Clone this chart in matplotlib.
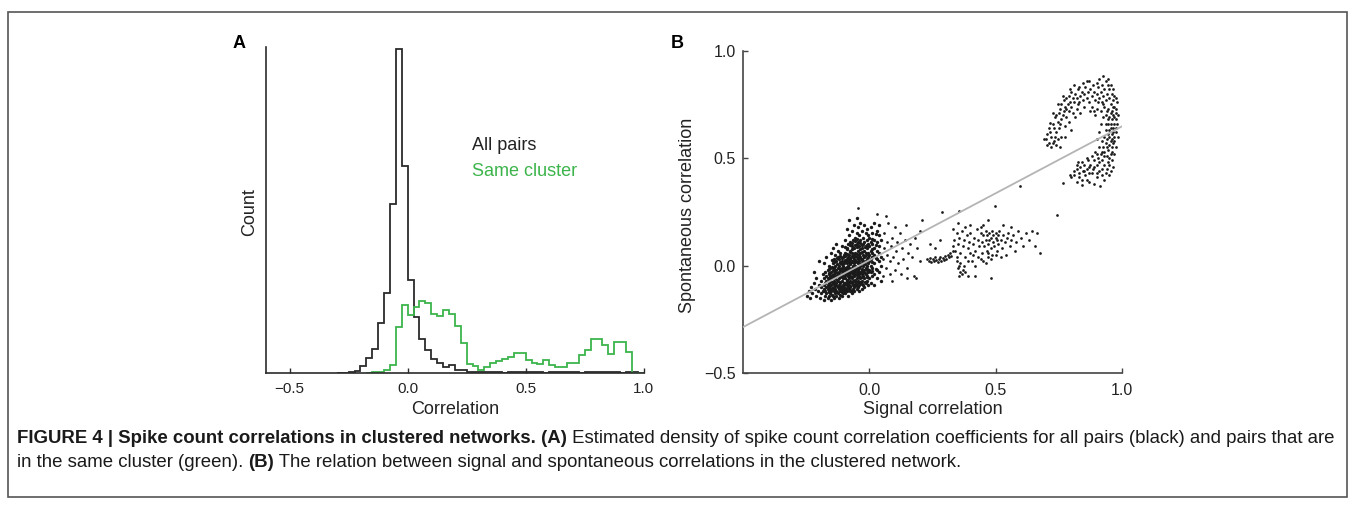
import numpy as np
import matplotlib
matplotlib.use("Agg")
import matplotlib.pyplot as plt
from matplotlib.patches import Rectangle

plt.rcParams['font.family'] = ['Liberation Sans', 'DejaVu Sans']

W, H = 1355, 509

# Panel A: histograms of correlation coefficients (bin width 0.025)

bin_width = 0.025

all_start = -0.3
all_counts = [
    0.0, 0.1, 0.3, 0.7, 2.3, 4.6, 7.4, 15.5, 24.8, 52.0, 100.0, 64.0,
    28.7, 17.4, 10.4, 7.1, 4.2, 3.0, 2.0, 2.6, 0.9, 0.9, 0.3,
    0.3, 0.2, 0.4, 0.2, 0.3, 0.1, 0.3, 0.2, 0.4, 0.2, 0.3, 0.2, 0.1, 0.3,
    0.2, 0.4, 0.2, 0.3, 0.1, 0.2, 0.3, 0.2, 0.4, 0.3, 0.2, 0.1, 0.3, 0.2, 0.1
]

same_start = -0.175
same_counts = [
    0.0, 0.2, 0.4, 0.9, 2.6, 14.3, 21.0, 18.0, 20.4, 22.3, 21.5,
    18.3, 17.7, 19.3, 18.1, 14.4, 9.2, 2.9, 2.1, 1.0, 2.0,
    3.0, 3.7, 4.3, 5.0, 6.1, 6.1, 4.0, 3.0, 2.7, 4.0,
    2.5, 1.8, 1.8, 3.2, 3.2, 5.6, 7.1, 10.4, 10.4, 8.6,
    5.8, 9.7, 9.7, 6.4, 0.0, 0.0
]

hist_ticks = [-0.5, 0.0, 0.5, 1.0]
hist_ticklabels = ["\u22120.5", "0.0", "0.5", "1.0"]

# Panel B: signal vs spontaneous correlation

core_pts = [
    (-0.245, -0.14), (-0.24, -0.12), (-0.235, -0.15), (-0.23, -0.10), (-0.225, -0.13),
    (-0.22, -0.08), (-0.215, -0.11), (-0.21, -0.14), (-0.21, -0.06), (-0.205, -0.12),
    (-0.20, -0.09), (-0.20, 0.02), (-0.22, -0.03),
    (-0.195, -0.15), (-0.19, -0.13), (-0.19, -0.10), (-0.19, -0.07), (-0.185, -0.12),
    (-0.185, -0.04), (-0.18, -0.16), (-0.18, -0.11), (-0.18, -0.09), (-0.18, -0.06),
    (-0.18, 0.01), (-0.175, -0.14), (-0.175, -0.12), (-0.175, -0.08), (-0.175, -0.03),
    (-0.17, -0.13), (-0.17, -0.10), (-0.17, -0.07), (-0.17, -0.05), (-0.17, 0.04),
    (-0.165, -0.15), (-0.165, -0.11), (-0.165, -0.09), (-0.165, -0.06), (-0.165, -0.02),
    (-0.16, -0.14), (-0.16, -0.12), (-0.16, -0.10), (-0.16, -0.08), (-0.16, -0.04),
    (-0.16, 0.00), (-0.155, -0.13), (-0.155, -0.11), (-0.155, -0.07), (-0.155, -0.05),
    (-0.155, -0.01), (-0.15, -0.16), (-0.15, -0.12), (-0.15, -0.09), (-0.15, -0.06),
    (-0.15, -0.03), (-0.15, 0.06),
    (-0.145, -0.14), (-0.145, -0.11), (-0.145, -0.08), (-0.145, -0.05), (-0.145, -0.02),
    (-0.145, 0.01), (-0.145, 0.08),
    (-0.14, -0.15), (-0.14, -0.12), (-0.14, -0.10), (-0.14, -0.07), (-0.14, -0.04),
    (-0.14, -0.01), (-0.14, 0.03),
    (-0.135, -0.13), (-0.135, -0.09), (-0.135, -0.06), (-0.135, -0.03), (-0.135, 0.00),
    (-0.135, 0.05), (-0.135, -0.11),
    (-0.13, -0.14), (-0.13, -0.12), (-0.13, -0.08), (-0.13, -0.05), (-0.13, -0.02),
    (-0.13, 0.02), (-0.13, 0.10),
    (-0.125, -0.13), (-0.125, -0.10), (-0.125, -0.07), (-0.125, -0.04), (-0.125, -0.01),
    (-0.125, 0.04), (-0.125, 0.07),
    (-0.12, -0.15), (-0.12, -0.11), (-0.12, -0.09), (-0.12, -0.06), (-0.12, -0.03),
    (-0.12, 0.00), (-0.12, 0.03),
    (-0.115, -0.12), (-0.115, -0.10), (-0.115, -0.08), (-0.115, -0.05), (-0.115, -0.02),
    (-0.115, 0.01), (-0.115, 0.06),
    (-0.11, -0.14), (-0.11, -0.11), (-0.11, -0.07), (-0.11, -0.04), (-0.11, -0.01),
    (-0.11, 0.02), (-0.11, 0.09),
    (-0.105, -0.13), (-0.105, -0.09), (-0.105, -0.06), (-0.105, -0.03), (-0.105, 0.00),
    (-0.105, 0.04), (-0.105, -0.11),
    (-0.10, -0.12), (-0.10, -0.10), (-0.10, -0.08), (-0.10, -0.05), (-0.10, -0.02),
    (-0.10, 0.01), (-0.10, 0.05),
    (-0.095, -0.13), (-0.095, -0.11), (-0.095, -0.08), (-0.095, -0.06), (-0.095, -0.03),
    (-0.095, -0.01), (-0.095, 0.02), (-0.095, 0.06), (-0.095, 0.12),
    (-0.09, -0.12), (-0.09, -0.09), (-0.09, -0.07), (-0.09, -0.04), (-0.09, -0.02),
    (-0.09, 0.01), (-0.09, 0.03), (-0.09, 0.08), (-0.09, 0.17),
    (-0.085, -0.14), (-0.085, -0.10), (-0.085, -0.08), (-0.085, -0.05), (-0.085, -0.03),
    (-0.085, 0.00), (-0.085, 0.04), (-0.085, 0.10),
    (-0.08, -0.11), (-0.08, -0.09), (-0.08, -0.06), (-0.08, -0.04), (-0.08, -0.01),
    (-0.08, 0.02), (-0.08, 0.05), (-0.08, 0.14), (-0.08, 0.21),
    (-0.075, -0.12), (-0.075, -0.10), (-0.075, -0.07), (-0.075, -0.05), (-0.075, -0.02),
    (-0.075, 0.01), (-0.075, 0.03), (-0.075, 0.07), (-0.075, 0.11),
    (-0.07, -0.13), (-0.07, -0.08), (-0.07, -0.06), (-0.07, -0.03), (-0.07, -0.01),
    (-0.07, 0.02), (-0.07, 0.06), (-0.07, 0.09), (-0.07, 0.16),
    (-0.065, -0.11), (-0.065, -0.09), (-0.065, -0.07), (-0.065, -0.04), (-0.065, -0.02),
    (-0.065, 0.00), (-0.065, 0.04), (-0.065, 0.12),
    (-0.06, -0.12), (-0.06, -0.10), (-0.06, -0.05), (-0.06, -0.03), (-0.06, 0.01),
    (-0.06, 0.03), (-0.06, 0.05), (-0.06, 0.08), (-0.06, 0.19),
    (-0.055, -0.09), (-0.055, -0.07), (-0.055, -0.04), (-0.055, -0.02), (-0.055, 0.00),
    (-0.055, 0.02), (-0.055, 0.06), (-0.055, 0.13),
    (-0.05, -0.11), (-0.05, -0.08), (-0.05, -0.06), (-0.05, -0.03), (-0.05, -0.01),
    (-0.05, 0.04), (-0.05, 0.10), (-0.05, 0.15), (-0.05, 0.22),
    (-0.045, -0.10), (-0.045, -0.07), (-0.045, -0.04), (-0.045, -0.02), (-0.045, 0.01),
    (-0.045, 0.03), (-0.045, 0.07), (-0.045, 0.11), (-0.045, 0.18),
    (-0.04, -0.12), (-0.04, -0.09), (-0.04, -0.05), (-0.04, -0.01), (-0.04, 0.02),
    (-0.04, 0.05), (-0.04, 0.09), (-0.04, 0.14),
    (-0.035, -0.08), (-0.035, -0.06), (-0.035, -0.03), (-0.035, 0.00), (-0.035, 0.04),
    (-0.035, 0.06), (-0.035, 0.12), (-0.035, 0.20),
    (-0.03, -0.11), (-0.03, -0.07), (-0.03, -0.04), (-0.03, -0.02), (-0.03, 0.01),
    (-0.03, 0.03), (-0.03, 0.08), (-0.03, 0.16),
    (-0.025, -0.09), (-0.025, -0.05), (-0.025, -0.03), (-0.025, 0.00), (-0.025, 0.02),
    (-0.025, 0.05), (-0.025, 0.10), (-0.025, 0.13),
    (-0.02, -0.10), (-0.02, -0.06), (-0.02, -0.02), (-0.02, 0.01), (-0.02, 0.04),
    (-0.02, 0.07), (-0.02, 0.11), (-0.02, 0.19),
    (-0.015, -0.08), (-0.015, -0.04), (-0.015, -0.01), (-0.015, 0.02), (-0.015, 0.06),
    (-0.015, 0.09), (-0.015, 0.15),
    (-0.01, -0.07), (-0.01, -0.05), (-0.01, -0.02), (-0.01, 0.00), (-0.01, 0.03),
    (-0.01, 0.08), (-0.01, 0.12), (-0.01, 0.17),
    (-0.005, -0.09), (-0.005, -0.03), (-0.005, 0.01), (-0.005, 0.04), (-0.005, 0.06),
    (-0.005, 0.10), (-0.005, 0.14),
    (0.0, -0.06), (0.0, -0.02), (0.0, 0.02), (0.0, 0.05), (0.0, 0.09), (0.0, 0.13),
    (0.005, -0.08), (0.005, -0.03), (0.005, 0.00), (0.005, 0.03), (0.005, 0.07),
    (0.005, 0.11), (0.005, 0.18),
    (0.01, -0.05), (0.01, -0.01), (0.01, 0.04), (0.01, 0.06), (0.01, 0.10), (0.01, 0.15),
    (0.02, -0.09), (0.02, -0.04), (0.02, 0.01), (0.02, 0.05), (0.02, 0.08), (0.02, 0.12),
    (0.02, 0.20),
    (0.03, -0.06), (0.03, -0.02), (0.03, 0.03), (0.03, 0.07), (0.03, 0.11), (0.03, 0.16),
    (0.04, -0.03), (0.04, 0.02), (0.04, 0.06), (0.04, 0.09), (0.04, 0.14), (0.04, 0.19),
    (0.045, -0.07), (0.045, 0.00), (0.045, 0.04), (0.045, 0.12),
]

# the darkest part of the blob, between the points above
core_fill_pts = [
    (-0.158, -0.125), (-0.158, -0.095), (-0.158, -0.065), (-0.158, -0.035), (-0.158, -0.015),
    (-0.148, -0.135), (-0.148, -0.105), (-0.148, -0.075), (-0.148, -0.045), (-0.148, -0.005),
    (-0.148, 0.025),
    (-0.138, -0.115), (-0.138, -0.085), (-0.138, -0.055), (-0.138, -0.025), (-0.138, 0.015),
    (-0.128, -0.125), (-0.128, -0.095), (-0.128, -0.065), (-0.128, -0.035), (-0.128, 0.005),
    (-0.128, 0.035),
    (-0.118, -0.135), (-0.118, -0.105), (-0.118, -0.075), (-0.118, -0.045), (-0.118, -0.015),
    (-0.118, 0.015), (-0.118, 0.045),
    (-0.108, -0.125), (-0.108, -0.095), (-0.108, -0.055), (-0.108, -0.025), (-0.108, 0.005),
    (-0.108, 0.035),
    (-0.098, -0.115), (-0.098, -0.085), (-0.098, -0.045), (-0.098, -0.015), (-0.098, 0.025),
    (-0.098, 0.045), (-0.098, 0.085),
    (-0.088, -0.105), (-0.088, -0.065), (-0.088, -0.035), (-0.088, -0.005), (-0.088, 0.015),
    (-0.088, 0.055), (-0.088, 0.075),
    (-0.078, -0.095), (-0.078, -0.075), (-0.078, -0.035), (-0.078, 0.005), (-0.078, 0.035),
    (-0.078, 0.065), (-0.078, 0.095),
    (-0.068, -0.115), (-0.068, -0.055), (-0.068, -0.025), (-0.068, 0.015), (-0.068, 0.045),
    (-0.068, 0.075), (-0.068, 0.105),
    (-0.058, -0.085), (-0.058, -0.065), (-0.058, -0.015), (-0.058, 0.025), (-0.058, 0.045),
    (-0.058, 0.095), (-0.058, 0.115),
    (-0.048, -0.095), (-0.048, -0.045), (-0.048, -0.015), (-0.048, 0.015), (-0.048, 0.055),
    (-0.048, 0.085), (-0.048, 0.125),
    (-0.038, -0.075), (-0.038, -0.035), (-0.038, 0.005), (-0.038, 0.035), (-0.038, 0.075),
    (-0.038, 0.105),
    (-0.028, -0.085), (-0.028, -0.055), (-0.028, -0.015), (-0.028, 0.025), (-0.028, 0.065),
    (-0.028, 0.095),
    (-0.018, -0.075), (-0.018, -0.035), (-0.018, 0.005), (-0.018, 0.045), (-0.018, 0.085),
    (-0.008, -0.055), (-0.008, -0.015), (-0.008, 0.025), (-0.008, 0.055), (-0.008, 0.095),
    (0.012, -0.025), (0.012, 0.015), (0.012, 0.075), (0.012, 0.125),
    (0.025, -0.015), (0.025, 0.035), (0.025, 0.095), (0.025, 0.145),
]

# thinner spread of points around the blob
spread_pts = [
    (0.055, -0.05), (0.055, 0.03), (0.06, 0.08), (0.06, 0.15), (0.065, -0.01),
    (0.07, 0.05), (0.07, 0.11), (0.075, 0.20), (0.08, -0.04), (0.08, 0.02),
    (0.085, 0.09), (0.09, 0.13), (0.09, -0.07), (0.095, 0.04), (0.10, 0.18),
    (0.10, -0.02), (0.105, 0.07), (0.11, 0.11), (0.115, 0.01), (0.12, 0.15),
    (0.125, -0.04), (0.13, 0.08), (0.135, 0.03), (0.14, 0.12), (0.145, 0.19),
    (0.15, -0.01), (0.155, 0.06), (0.16, 0.10), (0.17, 0.04), (0.175, -0.05),
    (0.18, 0.13), (0.19, 0.08), (0.20, 0.16), (0.21, 0.21), (0.065, 0.23),
    (0.03, 0.24), (-0.045, 0.27), (0.20, 0.02),
]

mid_pts = [
    (0.23, 0.03), (0.235, 0.02), (0.24, 0.035), (0.245, 0.015), (0.25, 0.03),
    (0.255, 0.02), (0.26, 0.04), (0.265, 0.025), (0.27, 0.015), (0.275, 0.03),
    (0.28, 0.04), (0.285, 0.02), (0.29, 0.035), (0.295, 0.025), (0.30, 0.045),
    (0.305, 0.03), (0.31, 0.05), (0.315, 0.04), (0.32, 0.06), (0.325, 0.045),
    (0.33, 0.07),
    (0.345, 0.02), (0.35, -0.01), (0.355, 0.00), (0.36, -0.03), (0.36, 0.01),
    (0.365, -0.04), (0.37, -0.02), (0.355, -0.05), (0.375, 0.00), (0.345, 0.04),
    (0.33, 0.09), (0.335, 0.12), (0.34, 0.07), (0.345, 0.15), (0.35, 0.10),
    (0.355, 0.13), (0.36, 0.06), (0.365, 0.16), (0.37, 0.09), (0.375, 0.12),
    (0.38, 0.04), (0.385, 0.14), (0.39, 0.08), (0.395, 0.11), (0.40, 0.06),
    (0.40, 0.15), (0.405, 0.02), (0.41, 0.10), (0.415, 0.13), (0.42, 0.07),
    (0.425, 0.17), (0.43, 0.04), (0.43, 0.12), (0.435, 0.09), (0.44, 0.15),
    (0.445, 0.11), (0.445, 0.06), (0.45, 0.14), (0.45, 0.02), (0.455, 0.09),
    (0.46, 0.16), (0.46, 0.12), (0.465, 0.07), (0.465, 0.14), (0.47, 0.10),
    (0.47, 0.04), (0.475, 0.15), (0.475, 0.12), (0.48, 0.08), (0.48, 0.13),
    (0.485, 0.16), (0.485, 0.05), (0.49, 0.11), (0.49, 0.14), (0.495, 0.09),
    (0.50, 0.13), (0.50, 0.15), (0.505, 0.07), (0.505, 0.12), (0.51, 0.10),
    (0.51, 0.14), (0.515, 0.16), (0.52, 0.12), (0.525, 0.08), (0.53, 0.14),
    (0.535, 0.11), (0.54, 0.05), (0.545, 0.13), (0.55, 0.15), (0.555, 0.09),
    (0.56, 0.12), (0.57, 0.14), (0.575, 0.07), (0.58, 0.11), (0.59, 0.16),
    (0.60, 0.13), (0.61, 0.09), (0.62, 0.15), (0.63, 0.12), (0.645, 0.16),
    (0.655, 0.09), (0.665, 0.15), (0.675, 0.06), (0.45, 0.19), (0.47, 0.21),
    (0.44, 0.18), (0.53, 0.19), (0.56, 0.18), (0.38, 0.18), (0.40, 0.19),
    (0.33, 0.17),
    (0.39, 0.02), (0.41, 0.05), (0.42, 0.00), (0.44, 0.03), (0.46, 0.01),
    (0.48, 0.03), (0.50, 0.05), (0.52, 0.04), (0.38, -0.03), (0.39, -0.05),
    (0.42, -0.05), (0.48, -0.06), (0.47, 0.06),
    (0.742, 0.237), (0.498, 0.276), (0.287, 0.25), (0.353, 0.256), (0.149, -0.06),
    (0.186, -0.057), (0.35, 0.20), (0.26, 0.08), (0.24, 0.10), (0.28, 0.12),
    (0.597, 0.369),
]

top_pts = [
    (0.70, 0.59), (0.705, 0.61), (0.71, 0.57), (0.715, 0.62), (0.72, 0.60),
    (0.725, 0.66), (0.73, 0.58), (0.73, 0.64), (0.735, 0.69), (0.74, 0.62),
    (0.745, 0.67), (0.75, 0.71), (0.75, 0.64), (0.755, 0.73), (0.76, 0.68),
    (0.76, 0.75), (0.765, 0.70), (0.77, 0.77), (0.77, 0.72), (0.775, 0.74),
    (0.78, 0.69), (0.78, 0.78), (0.785, 0.75), (0.79, 0.72), (0.79, 0.79),
    (0.795, 0.76), (0.80, 0.81), (0.80, 0.74), (0.805, 0.78), (0.81, 0.76),
    (0.815, 0.80), (0.82, 0.73), (0.82, 0.78), (0.825, 0.82), (0.83, 0.76),
    (0.835, 0.79), (0.84, 0.81), (0.845, 0.77), (0.85, 0.80), (0.855, 0.83),
    (0.86, 0.78), (0.74, 0.56), (0.76, 0.60), (0.72, 0.55), (0.69, 0.59),
    (0.87, 0.86), (0.875, 0.82), (0.88, 0.79), (0.885, 0.84), (0.89, 0.81),
    (0.895, 0.77), (0.90, 0.85), (0.90, 0.80), (0.905, 0.83), (0.91, 0.78),
    (0.91, 0.87), (0.915, 0.81), (0.92, 0.84), (0.92, 0.76), (0.925, 0.79),
    (0.93, 0.82), (0.935, 0.86), (0.935, 0.77), (0.94, 0.80), (0.945, 0.84),
    (0.95, 0.78), (0.95, 0.82), (0.955, 0.75), (0.96, 0.80), (0.965, 0.77),
    (0.97, 0.79), (0.88, 0.74), (0.89, 0.72), (0.895, 0.70), (0.90, 0.73),
    (0.96, 0.72), (0.965, 0.70), (0.97, 0.74), (0.975, 0.68), (0.97, 0.66),
    (0.965, 0.64), (0.975, 0.62), (0.96, 0.68), (0.955, 0.66), (0.95, 0.63),
    (0.96, 0.61), (0.97, 0.60), (0.955, 0.58), (0.945, 0.61), (0.94, 0.59),
    (0.95, 0.56), (0.96, 0.55), (0.945, 0.54), (0.935, 0.57), (0.93, 0.53),
    (0.94, 0.51), (0.95, 0.50), (0.955, 0.52), (0.965, 0.57), (0.975, 0.71),
    (0.98, 0.66), (0.98, 0.76), (0.975, 0.78), (0.95, 0.69), (0.945, 0.66),
    (0.935, 0.63), (0.93, 0.60), (0.92, 0.58), (0.925, 0.55), (0.915, 0.52),
    (0.92, 0.49), (0.93, 0.47), (0.94, 0.45), (0.95, 0.47), (0.96, 0.49),
    (0.91, 0.55), (0.905, 0.50), (0.90, 0.47), (0.895, 0.53), (0.89, 0.49),
    (0.885, 0.45), (0.88, 0.51), (0.875, 0.47), (0.87, 0.43), (0.865, 0.49),
    (0.86, 0.45), (0.855, 0.42), (0.85, 0.47), (0.845, 0.44), (0.84, 0.40),
    (0.835, 0.46), (0.83, 0.43), (0.825, 0.48), (0.82, 0.45), (0.91, 0.44),
    (0.90, 0.41), (0.92, 0.42), (0.935, 0.43), (0.945, 0.48), (0.955, 0.44),
    (0.965, 0.46), (0.97, 0.52), (0.975, 0.55), (0.91, 0.62), (0.90, 0.59),
    (0.915, 0.66), (0.925, 0.69), (0.94, 0.72), (0.93, 0.74),
    (0.768, 0.385), (0.794, 0.423), (0.84, 0.377), (0.913, 0.369), (0.80, 0.41),
    (0.87, 0.39), (0.89, 0.38), (0.82, 0.39), (0.985, 0.60), (0.985, 0.70),
    (0.81, 0.44), (0.86, 0.40),
    (0.715, 0.665), (0.725, 0.71), (0.735, 0.60), (0.745, 0.75), (0.755, 0.66),
    (0.765, 0.79), (0.775, 0.65), (0.78, 0.73), (0.79, 0.67), (0.795, 0.82),
    (0.805, 0.71), (0.81, 0.84), (0.815, 0.69), (0.825, 0.75), (0.83, 0.83),
    (0.835, 0.71), (0.845, 0.85), (0.85, 0.74), (0.86, 0.86), (0.865, 0.81),
    (0.87, 0.76), (0.875, 0.72), (0.725, 0.57), (0.745, 0.59), (0.705, 0.56),
    (0.755, 0.55), (0.775, 0.60), (0.71, 0.64), (0.74, 0.70), (0.80, 0.63),
    (0.905, 0.76), (0.915, 0.72), (0.925, 0.75), (0.935, 0.70), (0.945, 0.73),
    (0.955, 0.71), (0.965, 0.74), (0.965, 0.82), (0.955, 0.84), (0.945, 0.87),
    (0.925, 0.88), (0.975, 0.64), (0.97, 0.58), (0.96, 0.53), (0.95, 0.60),
    (0.94, 0.55), (0.93, 0.51), (0.92, 0.53), (0.91, 0.48), (0.90, 0.52),
    (0.89, 0.46), (0.88, 0.43), (0.87, 0.46), (0.86, 0.50), (0.85, 0.44),
    (0.84, 0.48), (0.83, 0.41), (0.82, 0.47), (0.81, 0.42), (0.90, 0.43),
    (0.92, 0.45), (0.93, 0.40), (0.95, 0.42), (0.96, 0.59), (0.965, 0.62),
    (0.97, 0.69), (0.975, 0.73), (0.955, 0.64), (0.945, 0.68), (0.935, 0.66),
]

# least squares line drawn in grey
fit_intercept = 0.025
fit_slope = 0.623

scatter_ticks_x = [0.0, 0.5, 1.0]
scatter_ticklabels_x = ["0.0", "0.5", "1.0"]
scatter_ticks_y = [-0.5, 0.0, 0.5, 1.0]
scatter_ticklabels_y = ["\u22120.5", "0.0", "0.5", "1.0"]

caption_line1 = [
    ("FIGURE 4 | Spike count correlations in clustered networks.", "bold"),
    (" (A)", "bold"),
    (" Estimated density of spike count correlation coefficients for all pairs (black) and pairs that are", "normal"),
]
caption_line2 = [
    ("in the same cluster (green). ", "normal"),
    ("(B)", "bold"),
    (" The relation between signal and spontaneous correlations in the clustered network.", "normal"),
]


GREEN = "#3cb44b"
DARK = "#2b2b2b"
DOT = "#1a1a1a"
LABEL_SIZE = 13


def px_axes(x0, y0, x1, y1):
    # pixel box (top-left origin) -> figure fraction
    return [x0 / W, 1 - y1 / H, (x1 - x0) / W, (y1 - y0) / H]


fig = plt.figure(figsize=(W / 100, H / 100), dpi=100)
fig.patch.set_facecolor("white")

# Panel A

axA = fig.add_axes(px_axes(266, 47, 643.6, 373))

all_edges = all_start + bin_width * np.arange(len(all_counts) + 1)
same_edges = same_start + bin_width * np.arange(len(same_counts) + 1)

axA.stairs(all_counts, all_edges, color=DARK, linewidth=1.3)
axA.stairs(same_counts, same_edges, color=GREEN, linewidth=1.3)

axA.set_xlim(-0.6, 1.0)
axA.set_ylim(0, 100.6)
axA.spines["top"].set_visible(False)
axA.spines["right"].set_visible(False)
for side in ["left", "bottom"]:
    axA.spines[side].set_color(DARK)
    axA.spines[side].set_linewidth(1.2)
axA.set_yticks([])
axA.set_xticks(hist_ticks)
axA.set_xticklabels(hist_ticklabels)
axA.tick_params(axis="x", direction="in", length=3.5, width=1, color=DARK,
                labelsize=11, pad=6.5, labelcolor="#222222")

axA.set_xlabel("Correlation", fontsize=LABEL_SIZE, color="#222222")
axA.xaxis.label.set_va("center")
axA.xaxis.set_label_coords(0.5, (373 - 409) / 326)
axA.set_ylabel("Count", fontsize=LABEL_SIZE, color="#222222")
axA.yaxis.label.set_va("center")
axA.yaxis.set_label_coords((250 - 266) / 377.6, (373 - 212) / 326)

axA.text(472 / W, 1 - 150 / H, "All pairs", transform=fig.transFigure,
         fontsize=LABEL_SIZE, color="#222222", va="baseline")
axA.text(472 / W, 1 - 175.5 / H, "Same cluster", transform=fig.transFigure,
         fontsize=LABEL_SIZE, color=GREEN, va="baseline")

fig.text(239 / W, 1 - 43 / H, "A", fontsize=LABEL_SIZE, fontweight="bold",
         ha="center", va="center")

# Panel B

axB = fig.add_axes(px_axes(743, 50.7, 1122, 373))

blob = np.array(core_pts + core_fill_pts)
others = np.array(spread_pts + mid_pts + top_pts)
axB.scatter(blob[:, 0], blob[:, 1], s=6, c=DOT, marker="o",
            linewidths=0, zorder=2)
axB.scatter(others[:, 0], others[:, 1], s=3.8, c=DOT, marker="o",
            linewidths=0, zorder=2)

fit_x = np.array([-0.5, 1.0])
axB.plot(fit_x, fit_intercept + fit_slope * fit_x, color="#b4b4b4",
         linewidth=1.3, zorder=3)

axB.set_xlim(-0.5, 1.0)
axB.set_ylim(-0.5, 1.0)
axB.spines["top"].set_visible(False)
axB.spines["right"].set_visible(False)
for side in ["left", "bottom"]:
    axB.spines[side].set_color("#444444")
    axB.spines[side].set_linewidth(1.2)
axB.set_xticks(scatter_ticks_x)
axB.set_xticklabels(scatter_ticklabels_x)
axB.set_yticks(scatter_ticks_y)
axB.set_yticklabels(scatter_ticklabels_y)
axB.tick_params(axis="both", direction="in", length=3.5, width=1,
                color="#444444", labelsize=11.5, labelcolor="#222222")
axB.tick_params(axis="x", pad=7)
axB.tick_params(axis="y", pad=5)

axB.set_xlabel("Signal correlation", fontsize=LABEL_SIZE, color="#222222")
axB.xaxis.label.set_va("center")
axB.xaxis.set_label_coords(0.5, (373 - 409) / 322.3)
axB.set_ylabel("Spontaneous correlation", fontsize=LABEL_SIZE, color="#222222")
axB.yaxis.label.set_va("center")
axB.yaxis.set_label_coords((687 - 743) / 379, (373 - 215) / 322.3)

fig.text(677 / W, 1 - 43 / H, "B", fontsize=LABEL_SIZE, fontweight="bold",
         ha="center", va="center")

# Caption, pieces laid out one after another

renderer = fig.canvas.get_renderer()


def write_line(parts, x_px, y_px, size):
    texts = []
    x = x_px
    for txt, weight in parts:
        t = fig.text(x / W, 1 - y_px / H, txt, fontsize=size, fontweight=weight,
                     color="#1a1a1a", va="baseline", ha="left")
        x = t.get_window_extent(renderer).x1
        texts.append(t)
    return texts, x - x_px


trial, width1 = write_line(caption_line1, 17, 443, 11)
for t in trial:
    t.remove()
cap_size = 11 * (1323 / width1)

write_line(caption_line1, 17, 443, cap_size)
write_line(caption_line2, 17, 467, cap_size)

# Frame around the whole figure
fig.add_artist(Rectangle((8 / W, 1 - 497 / H), (1347 - 8) / W, (497 - 12) / H,
                         transform=fig.transFigure, fill=False,
                         edgecolor="#555555", linewidth=1.2))

fig.savefig("out.png", dpi=100)
